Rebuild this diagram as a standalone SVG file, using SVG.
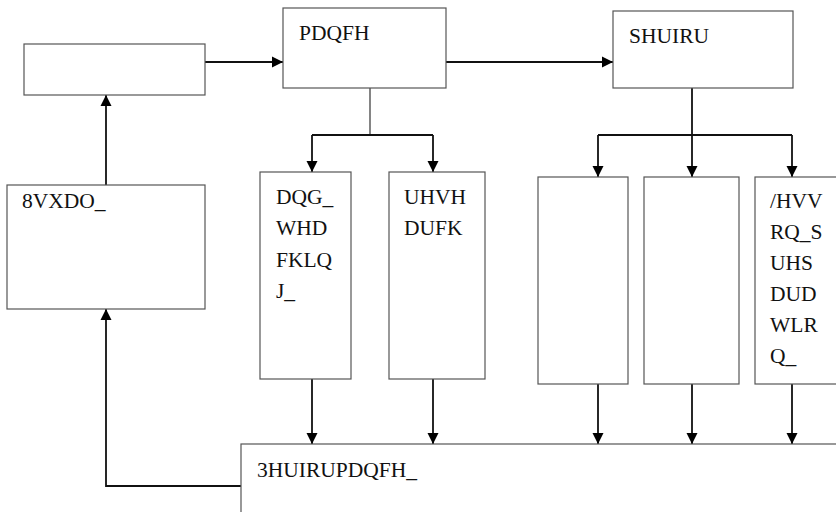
<svg xmlns="http://www.w3.org/2000/svg" width="836" height="512" viewBox="0 0 836 512">
<style>
.box{fill:#fff;stroke:#555;stroke-width:1.2}
text{font-family:"Liberation Serif","Times New Roman",serif;font-size:21.5px;fill:#111}
.c{fill:none;stroke:#111;stroke-width:1.8}
.l{fill:none;stroke:#333;stroke-width:1.2}
</style>
<defs>
<marker id="ah" markerWidth="12" markerHeight="12" viewBox="0 0 12 12" refX="11" refY="6" orient="auto" markerUnits="userSpaceOnUse">
<path d="M0,0.5 L11,6 L0,11.5 z" fill="#000"/>
</marker>
</defs>
<rect width="836" height="512" fill="#fff"/>
<g id="connectors">
<path class="c" d="M205,62 H283" marker-end="url(#ah)"/>
<path class="c" d="M446,62 H613" marker-end="url(#ah)"/>
<path class="c" d="M106,185 V95" marker-end="url(#ah)"/>
<path class="c" d="M241,486 H106 V309" marker-end="url(#ah)"/>
<path class="l" d="M370,88 V135"/>
<path class="c" d="M312,135 H433"/>
<path class="c" d="M312,135 V172" marker-end="url(#ah)"/>
<path class="c" d="M433,135 V172" marker-end="url(#ah)"/>
<path class="c" d="M692,88 V177" marker-end="url(#ah)"/>
<path class="c" d="M598,135 H792"/>
<path class="c" d="M598,135 V177" marker-end="url(#ah)"/>
<path class="c" d="M792,135 V177" marker-end="url(#ah)"/>
<path class="c" d="M312,379 V444" marker-end="url(#ah)"/>
<path class="c" d="M433,379 V444" marker-end="url(#ah)"/>
<path class="c" d="M598,384 V444" marker-end="url(#ah)"/>
<path class="c" d="M692,384 V444" marker-end="url(#ah)"/>
<path class="c" d="M792,384 V444" marker-end="url(#ah)"/>
</g>
<g id="box-top-left"><rect class="box" x="24" y="44" width="181" height="51"/></g>
<g id="pdqfh"><rect class="box" x="283" y="8" width="163" height="80"/><text x="299" y="40">PDQFH</text></g>
<g id="shuiru"><rect class="box" x="613" y="11" width="180" height="77"/><text x="629" y="43">SHUIRU</text></g>
<g id="vxdo"><rect class="box" x="7" y="185" width="198" height="124"/><text x="22" y="208">8VXDO_</text></g>
<g id="dqg"><rect class="box" x="260" y="172" width="91" height="207"/>
<text x="276" y="204">DQG_</text><text x="276" y="235">WHD</text><text x="276" y="267">FKLQ</text><text x="276" y="298">J_</text></g>
<g id="uhvh"><rect class="box" x="389" y="172" width="96" height="207"/>
<text x="404" y="204">UHVH</text><text x="404" y="235">DUFK</text></g>
<g id="box-r1"><rect class="box" x="538" y="177" width="90" height="207"/></g>
<g id="box-r2"><rect class="box" x="644" y="177" width="95" height="207"/></g>
<g id="hvv"><rect class="box" x="755" y="177" width="90" height="207"/>
<text x="770" y="208">/HVV</text><text x="770" y="239">RQ_S</text><text x="770" y="270">UHS</text><text x="770" y="301">DUD</text><text x="770" y="332">WLR</text><text x="770" y="363">Q_</text></g>
<g id="performance"><rect class="box" x="241" y="444" width="610" height="80"/><text x="257" y="477">3HUIRUPDQFH_</text></g>
</svg>
